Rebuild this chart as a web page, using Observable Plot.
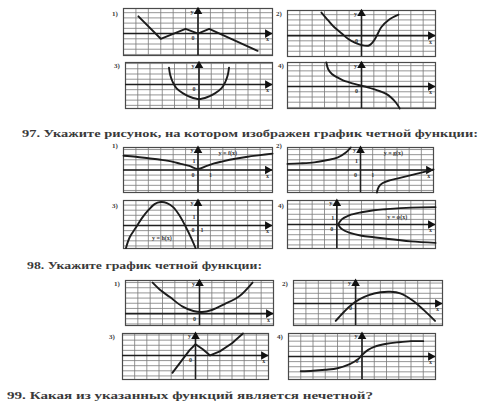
<!DOCTYPE html>
<html><head><meta charset="utf-8">
<script src="https://cdn.jsdelivr.net/npm/d3@7"></script>
<script src="https://cdn.jsdelivr.net/npm/@observablehq/plot@0.6"></script>
<style>
body{margin:0;background:#fff;}
#page{position:relative;width:486px;height:403px;overflow:hidden;background:#fff;}
#page .pn{position:absolute;}
#page svg{overflow:visible;display:block;}
</style></head><body><div id="page"></div>
<script>
// ---- question texts ----
const q97 = "97. Укажите рисунок, на котором изображен график четной функции:";
const q98 = "98. Укажите график четной функции:";
const q99 = "99. Какая из указанных функций является нечетной?";
const panelNumbers = ["1)", "2)", "3)", "4)"];

// ---- curves (x, y) ----
// block 96 (top)
const a1 = [[-4.8,3.3],[-3,-1.0],[-1,0.9],[0,0],[0.9,0.9],[4.8,-3.3]];
const a2 = [[-3.25,4.4],[-2.7,2.9],[-2.2,1.6],[-1.6,0.4],[-1.1,-0.6],[-0.5,-1.4],[0,-1.8],[0.6,-1.9],[0.9,-1.3],[1.2,-0.2],[1.6,1.6],[2.2,3.0],[3.0,4.0]];
const a3 = [[-2.45,3.2],[-2.35,1.8],[-2.15,0.5],[-1.85,-0.7],[-1.3,-1.7],[-0.7,-2.4],[0,-2.8],[0.7,-2.4],[1.3,-1.7],[1.85,-0.7],[2.15,0.5],[2.35,1.8],[2.45,3.2]];
const a4 = [[-2.85,4.6],[-2.7,3.3],[-2.4,2.4],[-2.0,1.8],[-1.5,1.2],[-1.0,0.8],[-0.5,0.45],[0,0.15],[0.5,-0.15],[1.0,-0.5],[1.5,-0.9],[2.0,-1.4],[2.4,-2.1],[2.8,-3.1],[3.1,-4.2]];
// block 97
const b1 = [[-6,2.8],[-5,2.6],[-4,2.3],[-3,2.0],[-2,1.6],[-1.4,1.2],[-0.7,0.8],[0,0.2],[0.7,0.8],[1.3,1.3],[2,1.7],[3,2.2],[4,2.6],[5,2.9],[6,3.2]];
const b2left = [[-6,1.2],[-5,1.3],[-3.8,1.5],[-2.8,1.9],[-1.9,2.4],[-1.2,3.4],[-0.8,4.4]];
const b2right = [[1.35,-4.4],[1.5,-3.3],[1.8,-2.6],[2.3,-2.1],[3,-1.7],[4,-1.1],[5,-0.5],[6,0.1]];
const b3 = [[-5.8,-4.4],[-5.5,-2.3],[-5,-0.4],[-4.5,1.5],[-4,3.0],[-3.5,4.2],[-3.0,4.6],[-2.5,4.4],[-2,3.6],[-1.5,2.0],[-1,-0.2],[-0.5,-2.7],[-0.2,-4.4]];
const b4top = [[0.1,0],[0.4,1.0],[1,1.8],[2,2.4],[3,2.8],[4,3.0],[6,3.3],[8,3.4]];
const b4bottom = [[0.1,0],[0.4,-0.9],[1,-1.6],[2,-2.2],[3,-2.5],[4,-2.8],[6,-3.3],[8,-3.6]];
// block 98
const c1 = [[-3.8,6.0],[-3.1,4.4],[-2.4,3.2],[-1.4,1.4],[-0.5,0.5],[0.2,0.3],[1,0.7],[2,1.8],[3.2,3.3],[4.3,6.0]];
const c2 = [[-1.6,-3.4],[-1,-1.8],[-0.3,-0.2],[0.3,0.8],[1,1.6],[2,2.2],[2.8,2.3],[3.6,2.0],[4.6,0.6],[5.5,-1.3],[6.4,-3.4]];
const c3 = [[-1.9,-3.4],[-1.2,-1.2],[-0.5,1.0],[0,2.2],[0.6,1.2],[1.2,0],[2,0.8],[3,2.4],[3.9,4.3]];
const c4 = [[-5,-2.9],[-4,-2.8],[-3,-2.6],[-2,-2.3],[-1,-1.5],[-0.3,-0.5],[0,0.3],[0.5,1.3],[1,1.9],[2,2.5],[3,2.8],[4,3.0],[5,3.0]];

const page = document.getElementById("page");

function panel(cfg) {
  const {left, top, width, height, xd, yd, lines, labels = []} = cfg;
  const gx = d3.range(Math.ceil(xd[0]), Math.floor(xd[1]) + 1);
  const gy = d3.range(Math.ceil(yd[0]), Math.floor(yd[1]) + 1);
  const marks = [
    Plot.ruleX(gx, {stroke: "#7a7a7a", strokeWidth: 0.8}),
    Plot.ruleY(gy, {stroke: "#7a7a7a", strokeWidth: 0.8}),
    Plot.frame({stroke: "#4a4a4a", strokeWidth: 1.2}),
    Plot.ruleX([0], {stroke: "#1f1f1f", strokeWidth: 1.6}),
    Plot.ruleY([0], {stroke: "#1f1f1f", strokeWidth: 1.6}),
    Plot.dot([{x: 0, y: yd[1] - 0.6}], {x: "x", y: "y", symbol: "triangle", r: 3.2, fill: "#111"}),
    Plot.dot([{x: xd[1] - 0.4, y: 0}], {x: "x", y: "y", symbol: "triangle", r: 3.2, fill: "#111", rotate: 90}),
    ...lines.map(l => Plot.line(l.data, {x: d => d[0], y: d => d[1], curve: l.curve || "catmull-rom", stroke: "#1c1c1c", strokeWidth: 1.9})),
    Plot.text([{x: 0, y: 0, t: "0"}], {x: "x", y: "y", text: "t", dx: -5, dy: 5, fill: "#333"}),
    Plot.text([{x: 0, y: yd[1] - 0.6, t: "y"}], {x: "x", y: "y", text: "t", dx: -6, fill: "#333"}),
    Plot.text([{x: xd[1] - 0.4, y: 0, t: "x"}], {x: "x", y: "y", text: "t", dy: 6, fill: "#333"}),
    ...labels.map(l => Plot.text([l], {x: "x", y: "y", text: "t", dx: l.dx || 0, dy: l.dy || 0, fill: "#333", fontSize: l.fs || 6}))
  ];
  const svg = Plot.plot({
    width, height, margin: 0,
    x: {domain: xd, axis: null},
    y: {domain: yd, axis: null},
    style: {background: "transparent", fontFamily: "Liberation Serif", fontSize: "6px", fontWeight: "bold", overflow: "visible"},
    marks
  });
  const div = document.createElement("div");
  div.className = "pn";
  div.style.left = left + "px";
  div.style.top = top + "px";
  div.appendChild(svg);
  page.appendChild(div);
}

// block 96
panel({left: 123, top: 8, width: 149, height: 47, xd: [-6, 6], yd: [-4.2, 4.8], lines: [{data: a1, curve: "linear"}]});
panel({left: 287, top: 10, width: 148, height: 46, xd: [-6, 6], yd: [-4.0, 4.8], lines: [{data: a2}]});
panel({left: 125, top: 62, width: 147, height: 46, xd: [-6, 6], yd: [-4.6, 4.2], lines: [{data: a3}]});
panel({left: 287, top: 62, width: 148, height: 46, xd: [-6, 6], yd: [-4.2, 4.6], lines: [{data: a4}]});
// block 97
panel({left: 123, top: 147, width: 149, height: 45, xd: [-6, 6], yd: [-4.4, 4.4], lines: [{data: b1}],
  labels: [{x: 2.4, y: 3.4, t: "y = f(x)"}, {x: 0, y: 1.8, t: "1", dx: -4}, {x: 1, y: 0, t: "1", dy: 5}]});
panel({left: 287, top: 147, width: 146, height: 45, xd: [-6, 6], yd: [-4.4, 4.4], lines: [{data: b2left}, {data: b2right}],
  labels: [{x: 2.7, y: 3.4, t: "y = g(x)"}, {x: 0, y: 1.8, t: "1", dx: -4}, {x: 1, y: 0, t: "1", dy: 5}]});
panel({left: 123, top: 200, width: 149, height: 48, xd: [-6, 6], yd: [-4.5, 4.9], lines: [{data: b3}],
  labels: [{x: -2.9, y: -2.5, t: "y = h(x)"}, {x: 0, y: 1.6, t: "1", dx: -4}, {x: 0, y: -0.9, t: "1", dx: 4}]});
panel({left: 287, top: 200, width: 148, height: 48, xd: [-4, 8], yd: [-4.7, 4.7], lines: [{data: b4top}, {data: b4bottom}],
  labels: [{x: 4.9, y: 1.4, t: "y = φ(x)"}, {x: 0, y: 1.3, t: "1", dx: -4}]});
// block 98
panel({left: 125, top: 280, width: 148, height: 45, xd: [-6, 6], yd: [-2.3, 6.4], lines: [{data: c1}]});
panel({left: 293, top: 280, width: 149, height: 45, xd: [-5, 7], yd: [-4.3, 4.5], lines: [{data: c2}]});
panel({left: 122, top: 333, width: 146, height: 46, xd: [-6, 6], yd: [-4.7, 4.3], lines: [{data: c3, curve: "linear"}]});
panel({left: 288, top: 333, width: 147, height: 46, xd: [-6, 6], yd: [-4.5, 4.5], lines: [{data: c4}]});

// ---- text overlay ----
const ov = d3.create("svg").attr("width", 486).attr("height", 403)
  .style("position", "absolute").style("left", "0px").style("top", "0px").style("overflow", "visible");
const qs = [
  {t: q97, x: 22, y: 137, len: 456},
  {t: q98, x: 27, y: 269, len: 235},
  {t: q99, x: 7, y: 399, len: 366}
];
ov.selectAll("text.q").data(qs).join("text").attr("class", "q")
  .attr("x", d => d.x).attr("y", d => d.y).text(d => d.t)
  .attr("textLength", d => d.len).attr("lengthAdjust", "spacingAndGlyphs")
  .attr("font-family", "Liberation Serif").attr("font-weight", "bold").attr("font-size", 9.5).attr("fill", "#3a3a3a");
const pl = [
  {t: panelNumbers[0], x: 112, y: 16}, {t: panelNumbers[1], x: 276, y: 16},
  {t: panelNumbers[2], x: 114, y: 68}, {t: panelNumbers[3], x: 278, y: 68},
  {t: panelNumbers[0], x: 112, y: 148}, {t: panelNumbers[1], x: 276, y: 148},
  {t: panelNumbers[2], x: 112, y: 208}, {t: panelNumbers[3], x: 278, y: 208},
  {t: panelNumbers[0], x: 114, y: 286}, {t: panelNumbers[1], x: 282, y: 286},
  {t: panelNumbers[2], x: 109, y: 339}, {t: panelNumbers[3], x: 277, y: 339}
];
ov.selectAll("text.n").data(pl).join("text").attr("class", "n")
  .attr("x", d => d.x).attr("y", d => d.y).text(d => d.t)
  .attr("font-family", "Liberation Serif").attr("font-weight", "bold").attr("font-size", 7).attr("fill", "#3a3a3a");
page.insertBefore(ov.node(), page.firstChild);
</script>
</body></html>
